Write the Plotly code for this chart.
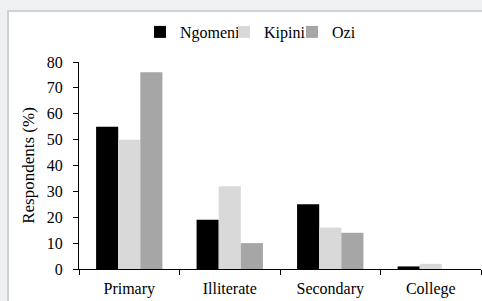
import plotly.graph_objects as go

categories = ["Primary", "Illiterate", "Secondary", "College"]
ngomeni = [55, 19, 25, 1]
kipini = [50, 32, 16, 2]
ozi = [76, 10, 14, 0]
y_ticks = [0, 10, 20, 30, 40, 50, 60, 70, 80]

FONT = "Liberation Serif, Times New Roman, serif"
W, H = 482, 301
ML, MR, MT, MB = 79, 1, 62, 32
pw = W - ML - MR
ph = H - MT - MB

def px_x(p):
    return (p - ML) / pw

def px_y(p):
    return (H - MB - p) / ph

fig = go.Figure()
fig.add_bar(name="Ngomeni", x=categories, y=ngomeni, marker_color="#000000", marker_line_width=0, legend="legend")
fig.add_bar(name="Kipini", x=categories, y=kipini, marker_color="#d9d9d9", marker_line_width=0, legend="legend2")
fig.add_bar(name="Ozi", x=categories, y=ozi, marker_color="#a6a6a6", marker_line_width=0, legend="legend3")

# white panel with gray border
fig.add_shape(type="rect", xref="paper", yref="paper",
              x0=px_x(8), x1=px_x(W + 20),
              y0=px_y(H + 20), y1=px_y(11),
              fillcolor="white", line=dict(color="#d2d2d2", width=2), layer="below")

def leg(xpx):
    return dict(orientation="h", x=px_x(xpx), xanchor="left", y=px_y(32), yanchor="middle",
                font=dict(family=FONT, size=16), bgcolor="rgba(0,0,0,0)",
                itemwidth=30, tracegroupgap=0, borderwidth=0)

fig.update_layout(
    width=W, height=H,
    margin=dict(l=ML, r=MR, t=MT, b=MB, autoexpand=False),
    paper_bgcolor="#eff0f2",
    plot_bgcolor="rgba(0,0,0,0)",
    barmode="group", bargap=0.34, bargroupgap=0,
    font=dict(family=FONT, size=16, color="#000000"),
    legend=leg(140), legend2=leg(224), legend3=leg(292),
    showlegend=True,
)
fig.update_xaxes(
    range=[-0.5, 3.5], tickson="boundaries", ticks="outside", ticklen=5, tickcolor="#000",
    showline=True, linecolor="#000", linewidth=1, showgrid=False,
    tickfont=dict(family=FONT, size=16), ticklabelstandoff=5,
)
fig.update_yaxes(
    range=[0, 80], tickvals=y_ticks, ticks="outside", ticklen=5, tickcolor="#000",
    showline=True, linecolor="#000", linewidth=1, showgrid=False, zeroline=False,
    tickfont=dict(family=FONT, size=16), ticklabelstandoff=7,
    title=dict(text="Respondents (%)", font=dict(family=FONT, size=17), standoff=7),
)
fig.write_html("out.html", config={"displayModeBar": False},
               post_script="document.body.style.margin='0';document.body.style.background='#eff0f2';")
